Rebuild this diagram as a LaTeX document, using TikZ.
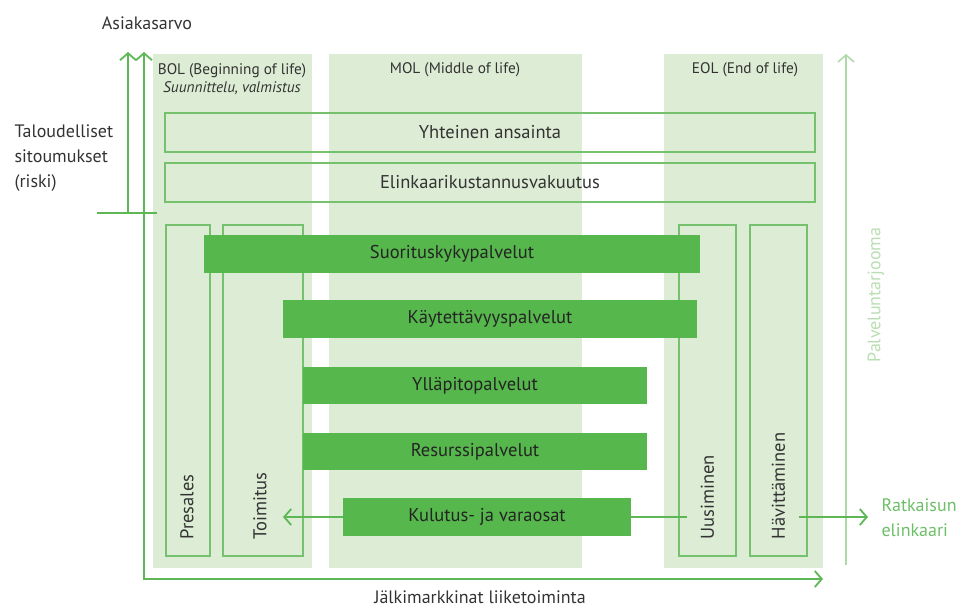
\documentclass[tikz,border=0pt]{standalone}
\usepackage{fontspec}
\setmainfont{PT Sans}
\usetikzlibrary{arrows.meta}

\definecolor{panelgreen}{RGB}{221,236,213}
\definecolor{linegreen}{RGB}{118,193,110}
\definecolor{bargreen}{RGB}{86,183,76}
\definecolor{axisgreen}{RGB}{92,183,84}
\definecolor{palegreen}{RGB}{172,217,165}
\definecolor{ratkgreen}{RGB}{108,191,102}
\definecolor{palvgreen}{RGB}{185,222,178}
\definecolor{textgrey}{RGB}{51,51,51}

\begin{document}
\begin{tikzpicture}[
        x=1pt, y=-1pt,
        panel/.style={rectangle, fill=panelgreen, minimum width=159pt, minimum height=514pt, inner sep=0pt},
        widebox/.style={rectangle, draw=linegreen, line width=1.2pt, minimum width=650pt, minimum height=39pt, font=\fontsize{18.5}{21}\selectfont, text=textgrey},
        vbox/.style={rectangle, draw=linegreen, line width=1.2pt, minimum height=331pt, inner sep=0pt},
        vlabel/.style={rotate=90, anchor=west, inner sep=0pt, font=\fontsize{18.5}{21}\selectfont, text=textgrey},
        bar/.style={rectangle, fill=bargreen, minimum height=38pt, inner sep=0pt, font=\fontsize{18.5}{21}\selectfont, text=textgrey!70!black},
        phase/.style={align=center, font=\fontsize{15.3}{18}\selectfont, text=textgrey},
        label/.style={font=\fontsize{18}{25}\selectfont, text=textgrey},
        axis/.style={draw=axisgreen, line width=1.8pt},
        arrow/.style={axis, >={Straight Barb[length=7pt, width=16pt]}, ->},
        lightarrow/.style={draw=palegreen, line width=1.5pt, >={Straight Barb[length=7pt, width=16pt]}, ->}
    ]
    \useasboundingbox (0,0) rectangle (961,608);

    % Life cycle phases
    \node[panel] (bol) at (232.5, 311) {};
    \node[panel, minimum width=253pt] (mol) at (455.5, 311) {};
    \node[panel] (eol) at (743.5, 311) {};

    \node[phase] (bol-label) at (232, 79) {BOL (Beginning of life)\\\textit{Suunnittelu, valmistus}};
    \node[phase] (mol-label) at (455, 70) {MOL (Middle of life)};
    \node[phase] (eol-label) at (745, 70) {EOL (End of life)};

    % Wide boxes
    \node[widebox] (yhteinen) at (490, 132.5) {Yhteinen ansainta};
    \node[widebox] (elinkaari) at (490, 182.5) {Elinkaarikustannusvakuutus};

    % Vertical boxes
    \node[vbox, minimum width=44pt] (presales) at (188, 390.5) {};
    \node[vbox, minimum width=80pt] (toimitus) at (263, 390.5) {};
    \node[vbox, minimum width=57pt] (uusiminen) at (707.5, 390.5) {};
    \node[vbox, minimum width=57pt] (havittaminen) at (778.5, 390.5) {};

    \node[vlabel] (presales-label) at ([xshift=-1pt, yshift=17pt]presales.south) {Presales};
    \node[vlabel] (toimitus-label) at ([xshift=-3pt, yshift=17pt]toimitus.south) {Toimitus};
    \node[vlabel] (uusiminen-label) at ([yshift=17pt]uusiminen.south) {Uusiminen};
    \node[vlabel] (havittaminen-label) at ([yshift=17pt]havittaminen.south) {Hävittäminen};

    % Service bars
    \node[bar, minimum width=496pt] (suoritus) at (452, 254) {Suorituskykypalvelut};
    \node[bar, minimum width=414pt] (kaytettavyys) at (490, 319) {Käytettävyyspalvelut};
    \node[bar, minimum width=344pt, minimum height=37pt] (yllapito) at (475, 385.5) {Ylläpitopalvelut};
    \node[bar, minimum width=344pt, minimum height=37pt] (resurssi) at (475, 451.5) {Resurssipalvelut};
    \node[bar, minimum width=288pt] (kulutus) at (487, 517) {Kulutus- ja varaosat};

    % Axis texts
    \node[label] (asiakasarvo) at (147, 23) {Asiakasarvo};
    \node[label, align=left, anchor=west] (taloudelliset) at (11, 158) {Taloudelliset\\sitoumukset\\(riski)};
    \node[label] (jalkimarkkinat) at (480, 597) {Jälkimarkkinat liiketoiminta};
    \node[label, align=left, anchor=west, text=ratkgreen] (ratkaisun) at (878, 518) {Ratkaisun\\elinkaari};
    \node[label, rotate=90, text=palvgreen] (palvelun) at (876, 295) {Palveluntarjooma};

    % Axis points
    \coordinate (arvo-top) at (144, 52);
    \coordinate (jalki-end) at (823, 579);
    \coordinate (riski-base) at (128, 213);
    \coordinate (riski-top) at (128, 52);
    \coordinate (riski-left) at (97, 213);
    \coordinate (riski-right) at (157, 213);
    \coordinate (palvelu-base) at (846, 565);
    \coordinate (palvelu-top) at (846, 54);
    \coordinate (toimitus-in) at (283, 517);
    \coordinate (uusiminen-in) at (687, 517);
    \coordinate (havittaminen-out) at (799, 517);
    \coordinate (ratkaisun-tip) at (868, 517);

    % Arrows
    \draw[arrow, <->] (arvo-top) |- (jalki-end);
    \draw[arrow] (riski-base) -- (riski-top);
    \draw[axis] (riski-left) -- (riski-right);
    \draw[lightarrow] (palvelu-base) -- (palvelu-top);
    \draw[arrow] (kulutus.west) -- (toimitus-in);
    \draw[axis] (kulutus.east) -- (uusiminen-in);
    \draw[arrow] (havittaminen-out) -- (ratkaisun-tip);

    \end{tikzpicture}
\end{document}
